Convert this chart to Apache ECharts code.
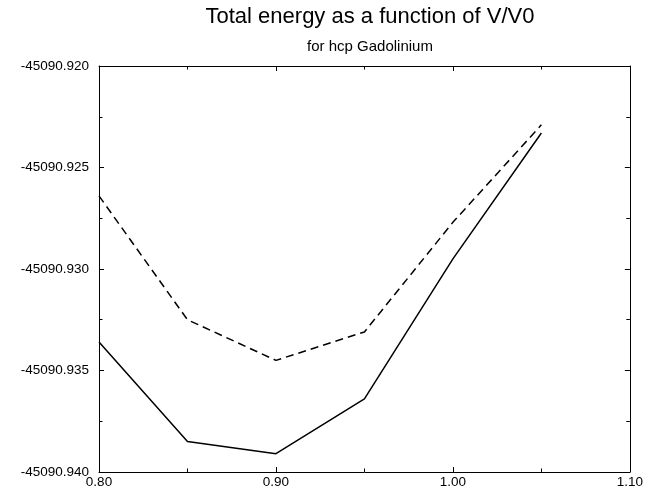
<!DOCTYPE html>
<html>
<head>
<meta charset="utf-8">
<script src="https://cdn.jsdelivr.net/npm/echarts@6/dist/echarts.min.js"></script>
<style>
html,body{margin:0;padding:0;background:#fff;}
#chart{width:646px;height:495px;}
</style>
</head>
<body>
<div id="chart"></div>
<script>
// V/V0 values
var volumeRatios = [0.80, 0.85, 0.90, 0.95, 1.00, 1.05];
// Total energy (solid curve)
var energySolid = [-45090.9336, -45090.9385, -45090.9391, -45090.9364, -45090.9295, -45090.9233];
// Total energy (dashed curve)
var energyDashed = [-45090.9264, -45090.9325, -45090.9345, -45090.9331, -45090.9277, -45090.9229];

var titleText = 'Total energy as a function of V/V0';
var subtitleText = 'for hcp Gadolinium';

function pairs(xs, ys) {
  return xs.map(function (x, i) { return [x, ys[i]]; });
}

var FONT = '"Liberation Sans", Arial, Helvetica, sans-serif';
var chart = echarts.init(document.getElementById('chart'), null, {renderer: 'canvas'});

var axisLineStyle = {show: true, lineStyle: {color: '#000', width: 1}};
var tickStyle = {show: true, inside: true, length: 5, lineStyle: {color: '#000', width: 1}};
var minorStyle = {show: true, splitNumber: 2, length: 3.5, lineStyle: {color: '#000', width: 1}};

chart.setOption({
  animation: false,
  backgroundColor: '#fff',
  title: [
    {text: titleText, left: 365, top: 1, textAlign: 'center',
     textStyle: {fontFamily: FONT, fontSize: 22, fontWeight: 'normal', color: '#000'}},
    {text: subtitleText, left: 365, top: 34, textAlign: 'center',
     textStyle: {fontFamily: FONT, fontSize: 15, fontWeight: 'normal', color: '#000'}}
  ],
  grid: {left: 99, right: 15, top: 66, bottom: 23, containLabel: false},
  xAxis: [
    {type: 'value', position: 'bottom', min: 0.8, max: 1.1, interval: 0.1,
     axisLine: axisLineStyle, axisTick: tickStyle, minorTick: minorStyle,
     splitLine: {show: false},
     axisLabel: {show: true, margin: 3, color: '#000', fontFamily: FONT, fontSize: 13.5,
       formatter: function (v) { return v.toFixed(2); }}},
    {type: 'value', position: 'top', min: 0.8, max: 1.1, interval: 0.1,
     axisLine: axisLineStyle, axisTick: tickStyle, minorTick: minorStyle,
     splitLine: {show: false}, axisLabel: {show: false}}
  ],
  yAxis: [
    {type: 'value', position: 'left', min: -45090.94, max: -45090.92, interval: 0.005,
     axisLine: axisLineStyle, axisTick: tickStyle, minorTick: minorStyle,
     splitLine: {show: false},
     axisLabel: {show: true, margin: 10, color: '#000', fontFamily: FONT, fontSize: 13.5,
       formatter: function (v) { return v.toFixed(3); }}},
    {type: 'value', position: 'right', min: -45090.94, max: -45090.92, interval: 0.005,
     axisLine: axisLineStyle, axisTick: tickStyle, minorTick: minorStyle,
     splitLine: {show: false}, axisLabel: {show: false}}
  ],
  series: [
    {type: 'line', xAxisIndex: 0, yAxisIndex: 0, data: pairs(volumeRatios, energyDashed),
     showSymbol: false, symbol: 'none',
     lineStyle: {color: '#000', width: 1.5, type: [8, 5]}},
    {type: 'line', xAxisIndex: 0, yAxisIndex: 0, data: pairs(volumeRatios, energySolid),
     showSymbol: false, symbol: 'none',
     lineStyle: {color: '#000', width: 1.5, type: 'solid'}}
  ]
});
</script>
</body>
</html>
